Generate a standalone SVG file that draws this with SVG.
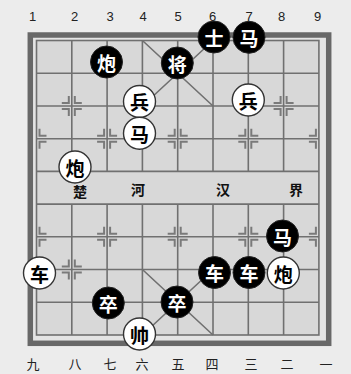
<svg xmlns="http://www.w3.org/2000/svg" width="351" height="374" viewBox="0 0 351 374">
<style>
.bg{fill:#ececec}
.grid{stroke:#707070;stroke-width:1.6;fill:none}
.mark{stroke:#7a7a7a;stroke-width:2;fill:none}
.num{font-family:"Liberation Sans",Arial,sans-serif;font-size:13px;fill:#222;text-anchor:middle}
.cn{font-family:"Noto Sans CJK SC",sans-serif;font-size:13px;fill:#222;text-anchor:middle}
.river{font-family:"Noto Sans CJK SC",sans-serif;font-size:14px;font-weight:bold;fill:#111;text-anchor:middle}
.blk circle{fill:#000;stroke:#222;stroke-width:1}
.blk text{fill:#fff}
.wht circle{fill:#fff;stroke:#333;stroke-width:1.4}
.wht text{fill:#000}
.pc text{font-family:"Noto Sans CJK SC",sans-serif;font-size:19px;font-weight:bold;text-anchor:middle;dominant-baseline:central}
</style>
<defs>
<g id="mk">
<path d="M-3,-10V-3H-10M3,-10V-3H10M-3,10V3H-10M3,10V3H10"/>
</g>
<g id="mkL">
<path d="M3,-10V-3H10M3,10V3H10"/>
</g>
<g id="mkR">
<path d="M-3,-10V-3H-10M-3,10V3H-10"/>
</g>
</defs>
<rect class="bg" x="0" y="0" width="351" height="374"/>
<g id="board">
<rect x="30.3" y="35" width="298.4" height="308.3" fill="#e4e4e4" stroke="#686868" stroke-width="5.5"/>
<rect x="36.5" y="40.5" width="282.4" height="294.5" fill="#d8d8d8"/>
<g class="grid">
<rect x="36.5" y="40.5" width="282.4" height="294.5"/>
<path d="M36.5,73.2H318.9M36.5,106H318.9M36.5,138.7H318.9M36.5,171.4H318.9M36.5,204.1H318.9M36.5,236.8H318.9M36.5,269.5H318.9M36.5,302.2H318.9"/>
<path d="M71.8,40.5V171.4M107.1,40.5V171.4M142.4,40.5V171.4M177.7,40.5V171.4M213,40.5V171.4M248.3,40.5V171.4M283.6,40.5V171.4"/>
<path d="M71.8,204.1V335M107.1,204.1V335M142.4,204.1V335M177.7,204.1V335M213,204.1V335M248.3,204.1V335M283.6,204.1V335"/>
<path d="M142.4,40.5L213,106M213,40.5L142.4,106M142.4,269.5L213,335M213,269.5L142.4,335"/>
</g>
<g class="mark">
<use href="#mk" x="71.8" y="106"/>
<use href="#mk" x="283.6" y="106"/>
<use href="#mkL" x="36.5" y="138.7"/>
<use href="#mk" x="107.1" y="138.7"/>
<use href="#mk" x="177.7" y="138.7"/>
<use href="#mk" x="248.3" y="138.7"/>
<use href="#mkR" x="318.9" y="138.7"/>
<use href="#mkL" x="36.5" y="236.8"/>
<use href="#mk" x="107.1" y="236.8"/>
<use href="#mk" x="177.7" y="236.8"/>
<use href="#mk" x="248.3" y="236.8"/>
<use href="#mkR" x="318.9" y="236.8"/>
<use href="#mk" x="71.8" y="269.5"/>
<use href="#mk" x="283.6" y="269.5"/>
</g>
<text class="river" x="80" y="197">楚</text>
<text class="river" x="138" y="195">河</text>
<text class="river" x="223" y="195">汉</text>
<text class="river" x="296" y="195">界</text>
</g>
<g id="labels">
<text class="num" x="32.5" y="21">1</text>
<text class="num" x="74.5" y="21">2</text>
<text class="num" x="110" y="21">3</text>
<text class="num" x="143" y="21">4</text>
<text class="num" x="178" y="21">5</text>
<text class="num" x="212.5" y="21">6</text>
<text class="num" x="249" y="21">7</text>
<text class="num" x="281.5" y="21">8</text>
<text class="num" x="317.5" y="21">9</text>
<text class="cn" x="33" y="369">九</text>
<text class="cn" x="75" y="369">八</text>
<text class="cn" x="110" y="369">七</text>
<text class="cn" x="142" y="369">六</text>
<text class="cn" x="178" y="369">五</text>
<text class="cn" x="212" y="369">四</text>
<text class="cn" x="251" y="369">三</text>
<text class="cn" x="287" y="369">二</text>
<text class="cn" x="326" y="369">一</text>
</g>
<g id="p-b-shi" class="pc blk"><circle cx="214" cy="37" r="16"/><text x="214" y="37">士</text></g>
<g id="p-b-ma1" class="pc blk"><circle cx="249" cy="37.3" r="16"/><text x="249" y="37.3">马</text></g>
<g id="p-b-pao" class="pc blk"><circle cx="106.5" cy="62" r="16"/><text x="106.5" y="62">炮</text></g>
<g id="p-b-jiang" class="pc blk"><circle cx="177.3" cy="63" r="16"/><text x="177.3" y="63">将</text></g>
<g id="p-w-bing1" class="pc wht"><circle cx="139.5" cy="101.5" r="16"/><text x="139.5" y="101.5">兵</text></g>
<g id="p-w-bing2" class="pc wht"><circle cx="248.3" cy="100" r="16"/><text x="248.3" y="100">兵</text></g>
<g id="p-w-ma" class="pc wht"><circle cx="139.5" cy="133.3" r="16"/><text x="139.5" y="133.3">马</text></g>
<g id="p-w-pao1" class="pc wht"><circle cx="75" cy="167" r="16"/><text x="75" y="167">炮</text></g>
<g id="p-b-ma2" class="pc blk"><circle cx="282.5" cy="236" r="16"/><text x="282.5" y="236">马</text></g>
<g id="p-w-che" class="pc wht"><circle cx="39.5" cy="273" r="16"/><text x="39.5" y="273">车</text></g>
<g id="p-b-che1" class="pc blk"><circle cx="214.5" cy="272.5" r="16"/><text x="214.5" y="272.5">车</text></g>
<g id="p-b-che2" class="pc blk"><circle cx="249" cy="272.5" r="16"/><text x="249" y="272.5">车</text></g>
<g id="p-w-pao2" class="pc wht"><circle cx="283.3" cy="273" r="16"/><text x="283.3" y="273">炮</text></g>
<g id="p-b-zu1" class="pc blk"><circle cx="108.3" cy="303" r="16"/><text x="108.3" y="303">卒</text></g>
<g id="p-b-zu2" class="pc blk"><circle cx="177" cy="302" r="16"/><text x="177" y="302">卒</text></g>
<g id="p-w-shuai" class="pc wht"><circle cx="139.5" cy="334" r="16"/><text x="139.5" y="334">帅</text></g>
<g id="connectors"/>
</svg>
